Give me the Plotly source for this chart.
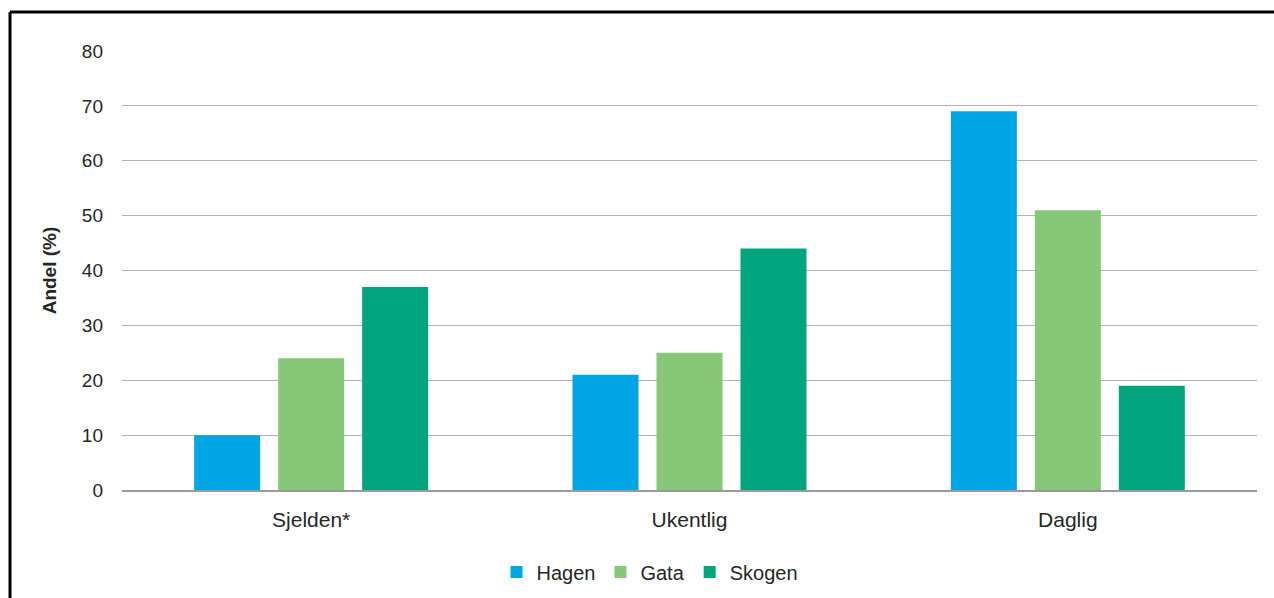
import plotly.graph_objects as go

categories = ["Sjelden*", "Ukentlig", "Daglig"]
hagen = [10, 21, 69]
gata = [24, 25, 51]
skogen = [37, 44, 19]
series_names = ["Hagen", "Gata", "Skogen"]
colors = ["#00A6E3", "#86C878", "#00A57E"]

W, H = 1274, 598
L, R, T, B = 122, 17, 51, 108
pw, ph = W - L - R, H - T - B

fig = go.Figure()
for name, vals, c in zip(series_names, [hagen, gata, skogen], colors):
    fig.add_trace(go.Bar(name=name, x=categories, y=vals, marker=dict(color=c, line=dict(width=0))))

def px_to_paper_x(px):
    return (px - L) / pw

def py_to_paper_y(py):
    return 1 - (py - T) / ph

# outer frame (left and top edges visible)
fig.add_shape(type="line", xref="paper", yref="paper",
              x0=px_to_paper_x(10), x1=px_to_paper_x(1400),
              y0=py_to_paper_y(12), y1=py_to_paper_y(12),
              line=dict(color="black", width=3))
fig.add_shape(type="line", xref="paper", yref="paper",
              x0=px_to_paper_x(10), x1=px_to_paper_x(10),
              y0=py_to_paper_y(12), y1=py_to_paper_y(700),
              line=dict(color="black", width=3))

fig.update_layout(
    width=W, height=H,
    margin=dict(l=L, r=R, t=T, b=B, autoexpand=False),
    paper_bgcolor="white", plot_bgcolor="white",
    barmode="group", bargap=0.334, bargroupgap=0.214,
    font=dict(family="Liberation Sans, Arial, sans-serif", size=20, color="#262626"),
    showlegend=True,
    legend=dict(orientation="h", x=px_to_paper_x(650), xanchor="center",
                y=py_to_paper_y(572), yanchor="middle",
                font=dict(size=20), itemwidth=30, traceorder="normal"),
    yaxis=dict(range=[0, 80], dtick=10, showgrid=True, gridcolor="#B3B3B3", gridwidth=1.3,
               zeroline=False, showline=False, ticks="", ticklabelstandoff=18,
               tickfont=dict(size=19),
               title=dict(text="<b>Andel (%)</b>", font=dict(size=19), standoff=20)),
    xaxis=dict(showline=True, linecolor="#9A9A9A", linewidth=1.5, ticks="",
               ticklabelstandoff=10, tickfont=dict(size=21)),
)

fig.write_html("out.html")
